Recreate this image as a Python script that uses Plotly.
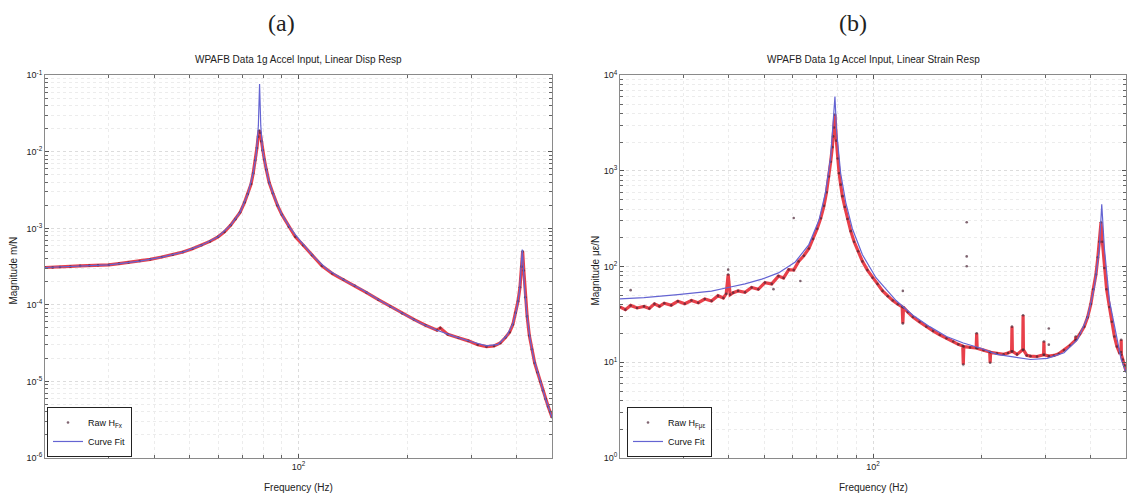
import plotly.graph_objects as go

# ---------------- (a) displacement response ----------------
raw_f_a = [20, 21, 22, 23.5, 25, 26.5, 28, 30, 32, 34, 36.5, 39, 42, 45, 48, 51, 54, 57, 60, 62.5,
           65, 67, 69, 71, 72.5, 74, 75, 76, 76.8, 77.4, 77.9, 78.4, 79.0, 79.6, 80.5, 81.5, 83, 85,
           87.5, 90, 94, 98, 103, 109, 116, 124, 133, 143, 154, 166, 179, 193, 208, 224, 241, 246,
           258, 276, 294, 312, 330, 346, 360, 372, 382, 390, 397, 403, 408, 412, 415, 418, 422, 427,
           433, 440, 448, 456, 464, 472, 480, 488, 494, 500]
raw_m_a = [3.08e-4, 3.09e-4, 3.13e-4, 3.18e-4, 3.24e-4, 3.28e-4, 3.30e-4, 3.34e-4, 3.47e-4, 3.59e-4,
           3.74e-4, 3.94e-4, 4.22e-4, 4.52e-4, 4.90e-4, 5.43e-4, 6.03e-4, 6.76e-4, 7.76e-4, 9.0e-4,
           1.10e-3, 1.32e-3, 1.62e-3, 2.19e-3, 2.82e-3, 3.80e-3, 5.25e-3, 7.76e-3, 1.12e-2, 1.58e-2,
           1.90e-2, 1.78e-2, 1.38e-2, 1.05e-2, 7.94e-3, 5.89e-3, 3.98e-3, 2.88e-3, 2.0e-3, 1.51e-3,
           1.05e-3, 7.76e-4, 6.03e-4, 4.47e-4, 3.24e-4, 2.57e-4, 2.14e-4, 1.78e-4, 1.45e-4, 1.17e-4,
           9.55e-5, 7.76e-5, 6.46e-5, 5.43e-5, 4.68e-5, 5.0e-5, 4.12e-5, 3.72e-5, 3.39e-5, 3.02e-5,
           2.85e-5, 2.90e-5, 3.18e-5, 3.75e-5, 4.40e-5, 5.55e-5, 7.9e-5, 1.12e-4, 1.70e-4, 3.16e-4,
           5.0e-4, 2.82e-4, 1.26e-4, 7.08e-5, 3.98e-5, 2.63e-5, 1.74e-5, 1.32e-5, 1.0e-5, 7.6e-6,
           5.9e-6, 4.7e-6, 4.0e-6, 3.4e-6]

fit_f_a = [20, 25, 30, 36.5, 42, 48, 54, 60, 65, 69, 72.5, 75, 76.5, 77.5, 78.1, 78.7, 79.6, 81, 83,
           86, 90, 95, 101, 110, 120, 135, 150, 170, 190, 215, 240, 270, 300, 330, 355, 375, 390,
           400, 407, 411, 414, 417, 421, 427, 435, 445, 460, 480, 500]
fit_m_a = [3.08e-4, 3.24e-4, 3.34e-4, 3.74e-4, 4.22e-4, 4.90e-4, 6.03e-4, 7.76e-4, 1.10e-3, 1.62e-3,
           2.82e-3, 5.25e-3, 9.5e-3, 2.2e-2, 7.7e-2, 2.2e-2, 1.05e-2, 6.8e-3, 3.98e-3, 2.5e-3,
           1.51e-3, 1.0e-3, 6.9e-4, 4.3e-4, 2.9e-4, 2.05e-4, 1.58e-4, 1.1e-4, 8.1e-5, 5.9e-5,
           4.7e-5, 3.85e-5, 3.3e-5, 2.92e-5, 3.05e-5, 3.95e-5, 5.62e-5, 9.0e-5, 1.55e-4, 2.8e-4,
           5.3e-4, 3.0e-4, 1.4e-4, 7.0e-5, 3.6e-5, 2.0e-5, 1.15e-5, 5.9e-6, 3.4e-6]

# ---------------- (b) strain response ----------------
raw_f_b = [20.0, 20.7, 21.4, 22.3, 23.3, 24.1, 24.9, 25.7, 26.5, 27.7, 28.9, 30.2, 31.5, 32.9, 34.3,
           35.8, 37.3, 38.6, 39.3, 39.8, 40.3, 41.1, 42.4, 44.3, 46.2, 48.2, 50.3, 52.5, 54.8, 56.6,
           58.5, 60.4, 62.3, 64.4, 66.5, 68.3, 70.1, 71.7, 73.2, 74.4, 75.5, 76.4, 77.2, 77.6, 78.0,
           78.5, 79.2, 79.9, 80.6, 81.4, 82.3, 83.6, 85.0, 86.8, 88.7, 91.0, 93.5, 96.5, 99.7, 102.9,
           106.3, 109.8, 113.4, 117.1, 120.4, 120.9, 121.4, 124.8, 128.9, 134.5, 140.4, 146.5, 152.9,
           159.6, 166.6, 172.0, 177.0, 177.6, 178.2, 185.3, 192.8, 193.4, 194.0, 202.0, 210.1, 210.7,
           211.3, 220.0, 229.5, 236.0, 241.5, 242.1, 242.7, 250.0, 259.2, 259.8, 260.4, 266.0, 272.3,
           284.0, 296.0, 296.6, 297.2, 306.0, 316.2, 326.0, 337.2, 350.0, 362.7, 363.3, 363.9, 373.0,
           383.3, 391.6, 399.9, 406.0, 413.0, 418.0, 422.1, 426.6, 430.2, 435.8, 442.0, 450.0, 457.0,
           464.5, 472.0, 479.7, 484.3, 484.9, 485.5, 489.9, 495.0, 500.0]
raw_m_b = [37.8, 35.5, 39.3, 37.0, 38.4, 36.5, 40.8, 38.5, 41.5, 39.5, 43.5, 41.0, 44.2, 42.0, 45.9,
           43.8, 49.7, 47.0, 52.0, 82.8, 51.0, 53.5, 55.8, 54.0, 60.5, 58.0, 68.1, 66.0, 79.6, 76.0,
           93.1, 92.0, 113.5, 130, 155, 195, 249, 320, 432, 600, 875, 1250, 1774, 2300, 2844,
           3890, 2075, 1350, 946, 720, 546, 420, 315, 235, 182, 145, 113.5, 92, 76.6, 66,
           55.8, 49, 44.2, 40.5, 38.0, 25.5, 37.5, 33.5, 29.8, 26.5, 23.6, 21.3, 19.4,
           17.8, 16.5, 15.4, 14.8, 9.5, 14.6, 14.3, 14.1, 20.1, 14.0, 13.4, 12.8, 9.9,
           12.7, 12.4, 12.1, 12.5, 13.0, 23.6, 13.0, 12.1, 13.5, 31.0, 13.5, 11.8, 11.6,
           11.5, 12.0, 16.5, 12.0, 11.6, 11.8, 12.3, 13.4, 15.0, 17.0, 18.6, 17.3, 19.8,
           23.6, 29.5, 40.8, 58, 82.8, 125, 182, 291, 182, 96.8, 58, 37.8, 26.5,
           18.6, 14.6, 12.6, 12.8, 17.2, 12.0, 10.7, 9.3, 8.1]

out_f_b = [21.4, 39.8, 53.1, 60.4, 63.0, 120.9, 181.5, 181.5, 181.5, 306, 306]
out_m_b = [56.8, 93, 58.2, 323, 70.8, 55.8, 291, 128, 101, 22.6, 15.3]

fit_f_b = [20, 23.3, 28.9, 35.8, 39.8, 44.3, 49.3, 54.8, 61.0, 66.5, 70.9, 73.9, 76.4, 77.7, 78.5,
           79.3, 81.4, 84.1, 87.7, 93.5, 101.9, 115.8, 128.9, 143.4, 159.6, 177.6, 197.6, 219.9,
           244.7, 272.3, 303, 337.2, 367.2, 391.6, 408.7, 422.1, 428.5, 435.8, 450, 469.7, 484.9, 500]
fit_m_b = [46.0, 47.5, 51.0, 55.5, 60.5, 66.0, 74.0, 86.0, 112, 170, 305, 590, 1403, 3327, 6000,
           2630, 946, 467, 249, 133, 76.6, 44.2, 31.0, 23.6, 18.6, 15.9, 14.1, 12.1,
           11.4, 10.7, 11.0, 12.6, 17.2, 29.8, 60.5, 155, 449, 155, 44.2, 18.6, 10.7, 7.8]

ytick_a = [1e-6, 1e-5, 1e-4, 1e-3, 1e-2, 1e-1]
ytext_a = ["10<sup>-6</sup>", "10<sup>-5</sup>", "10<sup>-4</sup>", "10<sup>-3</sup>",
           "10<sup>-2</sup>", "10<sup>-1</sup>"]
ytick_b = [1, 10, 100, 1000, 10000]
ytext_b = ["10<sup>0</sup>", "10<sup>1</sup>", "10<sup>2</sup>", "10<sup>3</sup>", "10<sup>4</sup>"]
xtick = [100]
xtext = ["10<sup>2</sup>"]

RED = "#e8404a"
DARK = "#4a2434"
BLUE = "#6464d2"
FONT = "Liberation Sans, Arial, sans-serif"

W, H = 1141, 502
def px(x):
    return x / W
def py(y):
    return 1 - y / H

fig = go.Figure()

def add_panel(xa, ya, leg, rf, rm, of, om, ff, fm, rawname):
    fig.add_trace(go.Scatter(x=rf, y=rm, mode="lines", line=dict(color=RED, width=3.2),
                             xaxis=xa, yaxis=ya, showlegend=False, hoverinfo="skip"))
    fig.add_trace(go.Scatter(x=list(rf) + list(of), y=list(rm) + list(om), mode="markers",
                             marker=dict(color=DARK, size=2.6, opacity=0.7),
                             name=rawname, xaxis=xa, yaxis=ya, legend=leg))
    fig.add_trace(go.Scatter(x=ff, y=fm, mode="lines", line=dict(color=BLUE, width=1.2),
                             name="Curve Fit", xaxis=xa, yaxis=ya, legend=leg))

add_panel("x", "y", "legend", raw_f_a, raw_m_a, [], [], fit_f_a, fit_m_a, "Raw H<sub>Fx</sub>")
add_panel("x2", "y2", "legend2", raw_f_b, raw_m_b, out_f_b, out_m_b, fit_f_b, fit_m_b,
          "Raw H<sub>Fμε</sub>")

xdom_a = [px(45), px(552)]
xdom_b = [px(620), px(1126)]
ydom = [py(462), py(70)]

GRID = "#dcdcdc"
MGRID = "#ececec"

def xaxis(dom, anchor):
    return dict(type="log", domain=dom, anchor=anchor, range=[1.30103, 2.69897],
                tickvals=xtick, ticktext=xtext, ticks="inside", ticklen=4,
                tickcolor="#555", showline=True, linecolor="#8a8a8a", linewidth=1, mirror="allticks",
                showgrid=True, gridcolor=GRID, griddash="dot", gridwidth=1, zeroline=False,
                tickfont=dict(size=9, color="#222", family=FONT),
                minor=dict(dtick="D1", ticks="inside", ticklen=3, tickcolor="#666",
                           showgrid=True, gridcolor=MGRID, griddash="dot"))

def yaxis(dom, anchor, rng, tv, tt):
    return dict(type="log", domain=dom, anchor=anchor, range=rng, tickvals=tv, ticktext=tt,
                ticks="inside", ticklen=4, tickcolor="#555", showline=True, linecolor="#8a8a8a",
                linewidth=1, mirror="allticks", showgrid=True, gridcolor=GRID, griddash="dot",
                zeroline=False, tickfont=dict(size=9, color="#222", family=FONT),
                minor=dict(dtick="D1", ticks="inside", ticklen=3, tickcolor="#666",
                           showgrid=True, gridcolor=MGRID, griddash="dot"))

legstyle = dict(bgcolor="white", bordercolor="#222", borderwidth=1,
                font=dict(size=9, family=FONT, color="#111"), xanchor="left", yanchor="bottom",
                tracegroupgap=0, itemwidth=30)

def ann(text, x, y, size=10, family=FONT, angle=0):
    return dict(text=text, x=px(x), y=py(y), xref="paper", yref="paper", showarrow=False,
                xanchor="center", yanchor="middle", textangle=angle,
                font=dict(size=size, family=family, color="#222"))

SERIF = "Liberation Serif, DejaVu Serif, serif"

fig.update_layout(
    width=W, height=H, margin=dict(l=0, r=0, t=0, b=0),
    paper_bgcolor="white", plot_bgcolor="white",
    xaxis=xaxis(xdom_a, "y"), yaxis=yaxis(ydom, "x", [-6, -1], ytick_a, ytext_a),
    xaxis2=xaxis(xdom_b, "y2"), yaxis2=yaxis(ydom, "x2", [0, 4], ytick_b, ytext_b),
    legend=dict(x=px(47), y=py(461), **legstyle),
    legend2=dict(x=px(627), y=py(461), **legstyle),
    annotations=[
        ann("(a)", 281, 16, 24, SERIF),
        ann("(b)", 853, 16, 24, SERIF),
        ann("WPAFB Data 1g Accel Input, Linear Disp Resp", 298, 54),
        ann("WPAFB Data 1g Accel Input, Linear Strain Resp", 873, 54),
        ann("Frequency (Hz)", 298, 492),
        ann("Frequency (Hz)", 873, 492),
        ann("Magnitude m/N", 14, 270, angle=-90),
        ann("Magnitude με/N", 596, 270, angle=-90),
    ],
)

fig.write_html("out.html")
